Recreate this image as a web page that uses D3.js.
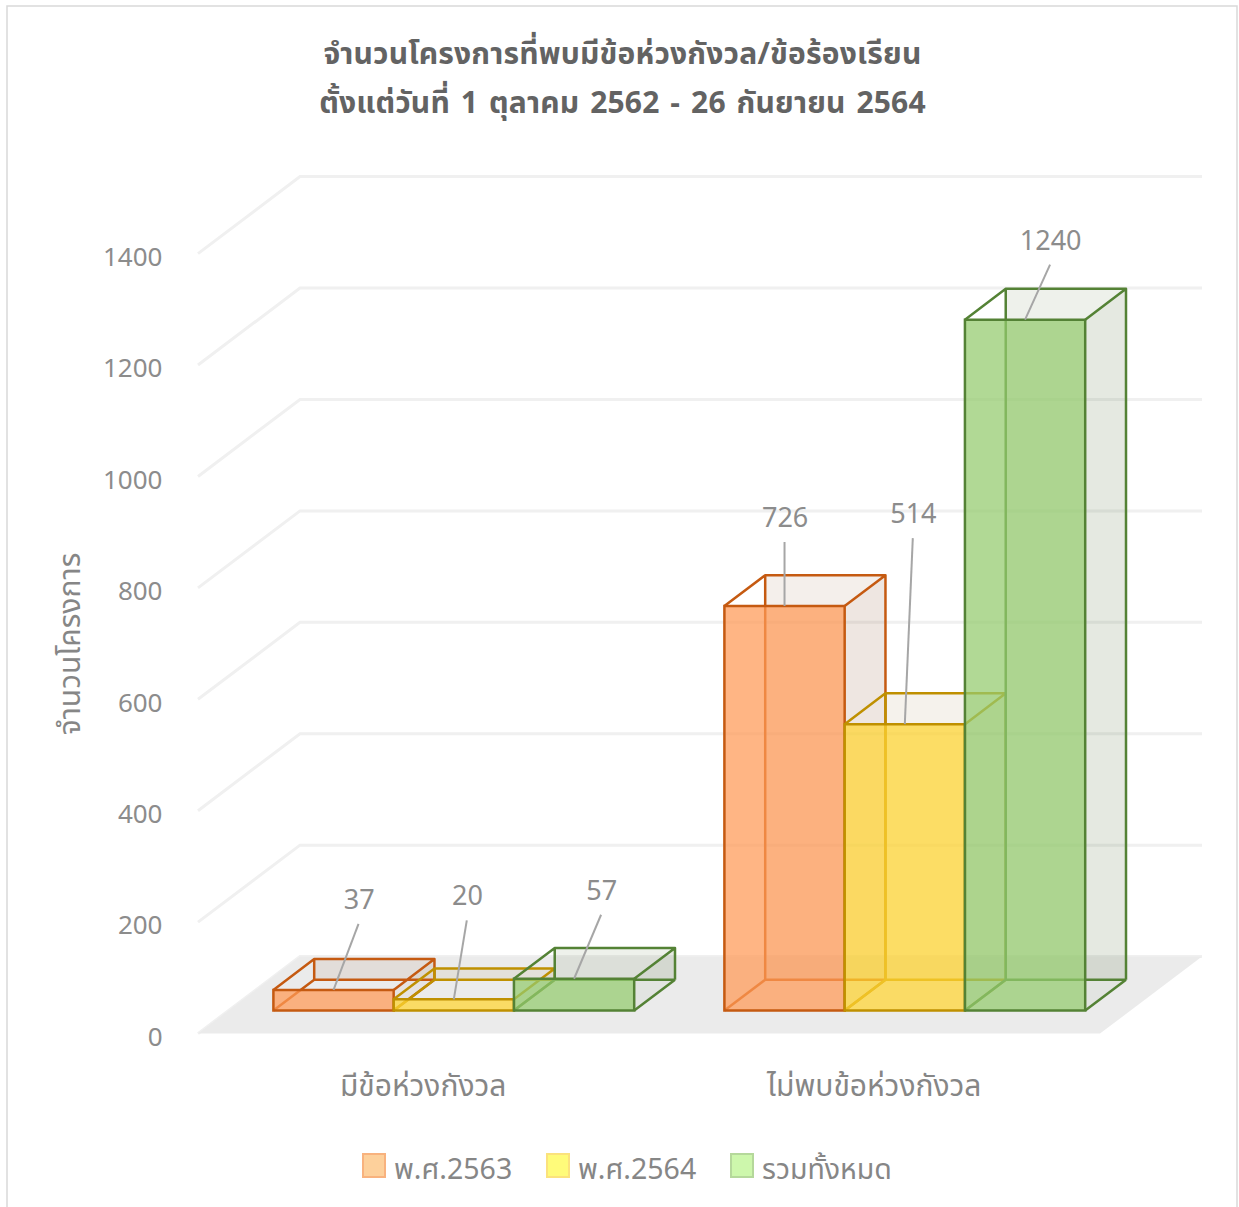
<!DOCTYPE html>
<html>
<head>
<meta charset="utf-8">
<script src="https://cdn.jsdelivr.net/npm/d3@7"></script>
<style>
  html, body { margin: 0; padding: 0; background: #fff; }
  svg { display: block; }
  text { font-family: "Noto Sans Thai", "Noto Sans", "DejaVu Sans", sans-serif; }
</style>
</head>
<body>
<div id="chart"></div>
<script>
// Chart data
var categories = ["มีข้อห่วงกังวล", "ไม่พบข้อห่วงกังวล"];
var seriesNames = ["พ.ศ.2563", "พ.ศ.2564", "รวมทั้งหมด"];
var values2563 = [37, 726];
var values2564 = [20, 514];
var valuesTotal = [57, 1240];
var yTicks = [0, 200, 400, 600, 800, 1000, 1200, 1400];
var titleLines = ["จำนวนโครงการที่พบมีข้อห่วงกังวล/ข้อร้องเรียน", "ตั้งแต่วันที่ 1 ตุลาคม 2562 - 26 กันยายน 2564"];
var yTitle = "จำนวนโครงการ";

var allValues = [values2563, values2564, valuesTotal];

// Colours per series
var colors = [
  { front: "#FF9A57", edge: "#C55A11", tint: "#945F3E", swatch: "#FDD09B", swatchEdge: "#F8B27E" },
  { front: "#FFD533", edge: "#BF9000", tint: "#A08040", swatch: "#FFFB7A", swatchEdge: "#FBE27D" },
  { front: "#94CB6D", edge: "#548235", tint: "#58733E", swatch: "#CDF7AC", swatchEdge: "#B5D89B" }
];

var svgWidth = 1239;
var svgHeight = 1207;

var svg = d3.select("#chart").append("svg")
  .attr("width", svgWidth)
  .attr("height", svgHeight);

// Chart frame
svg.append("rect")
  .attr("x", 7).attr("y", 6)
  .attr("width", 1230).attr("height", 1230)
  .attr("fill", "#fff")
  .attr("stroke", "#D9D9D9")
  .attr("stroke-width", 1.5);

// Oblique projection: the floor runs from x 198-1100 at the front, depth moves up and right
var floorLeft = 198, floorRight = 1100, floorFront = 1033.6;
var depthX = 102, depthY = -77;

var xCat = d3.scaleBand().domain(d3.range(categories.length))
  .range([floorLeft - 0.3, floorRight - 0.3])
  .paddingInner(0.2).paddingOuter(0.1);
var xSeries = d3.scaleBand().domain(d3.range(seriesNames.length))
  .range([0, xCat.bandwidth()]);
var yScale = d3.scaleLinear().domain([0, 1400]).range([floorFront, floorFront - 780]);

// x in front-plane pixels, v in chart value, d in 0..1 depth
function project(x, v, d) {
  return [x + depthX * d, yScale(v) + depthY * d];
}
var line = d3.line();
function poly(points) { return line(points) + "Z"; }

// Gridlines: side wall then back wall
svg.append("g").selectAll("path")
  .data(yTicks)
  .enter().append("path")
  .attr("d", v => line([project(floorLeft, v, 0), project(floorLeft, v, 1), project(floorRight, v, 1)]))
  .attr("fill", "none")
  .attr("stroke", "#F0F0F0")
  .attr("stroke-width", 3);

// Floor
svg.append("path")
  .attr("d", poly([project(floorLeft, 0, 0), project(floorRight, 0, 0), project(floorRight, 0, 1), project(floorLeft, 0, 1)]))
  .attr("fill", "#EBEBEB");

// Bars, left to right so each one lies over the side of the previous
var barFront = 0.3, barBack = 0.7;

categories.forEach(function(cat, c) {
  seriesNames.forEach(function(name, s) {
    var v = allValues[s][c];
    var x0 = xCat(c) + xSeries(s);
    var x1 = x0 + xSeries.bandwidth();
    var col = colors[s];
    var g = svg.append("g");

    var a = project(x0, 0, barFront), b = project(x1, 0, barFront);
    var e = project(x0, v, barFront), f = project(x1, v, barFront);
    var a2 = project(x0, 0, barBack), b2 = project(x1, 0, barBack);
    var e2 = project(x0, v, barBack), f2 = project(x1, v, barBack);

    // back and side panels, barely tinted (they overlap, so the side stays weak)
    g.append("path").attr("d", poly([a2, b2, f2, e2])).attr("fill", col.tint).attr("opacity", 0.1);
    g.append("path").attr("d", poly([b, b2, f2, f])).attr("fill", col.tint).attr("opacity", 0.06);

    // hidden edges
    g.append("path")
      .attr("d", line([a, a2, b2]) + line([a2, e2]) + line([b2, f2]) + line([e, e2, f2, f]) + line([b, b2]))
      .attr("fill", "none").attr("stroke", col.edge).attr("stroke-width", 2.5)
      .attr("stroke-linejoin", "round");

    // front
    g.append("path").attr("d", poly([a, b, f, e])).attr("fill", col.front).attr("opacity", 0.73);
    g.append("path").attr("d", poly([a, b, f, e]))
      .attr("fill", "none").attr("stroke", col.edge).attr("stroke-width", 2.5);
  });
});

// Data labels with their leader lines, each label placed by hand from the bar top
var labelShift = [[[25, -66], [13, -79], [27, -64]], [[0, -64], [8, -186], [25, -55]]];

categories.forEach(function(cat, c) {
  seriesNames.forEach(function(name, s) {
    var v = allValues[s][c];
    var mid = xCat(c) + xSeries(s) + xSeries.bandwidth() / 2;
    var top = project(mid, v, barFront);
    var sh = labelShift[c][s];
    svg.append("line")
      .attr("x1", top[0]).attr("y1", top[1])
      .attr("x2", top[0] + sh[0]).attr("y2", top[1] + sh[1])
      .attr("stroke", "#A6A6A6").attr("stroke-width", 2);
    svg.append("text")
      .attr("x", top[0] + sh[0] + 0.6).attr("y", top[1] + sh[1] - 15)
      .attr("text-anchor", "middle")
      .attr("font-size", 27)
      .attr("fill", "#8C8C8C")
      .text(v);
  });
});

// Y axis
var yAxis = svg.append("g")
  .attr("transform", "translate(162.5,3.5)")
  .call(d3.axisLeft(yScale).tickValues(yTicks).tickFormat(d3.format("d")).tickSize(0).tickPadding(0));
yAxis.select(".domain").remove();
yAxis.attr("font-family", null);
yAxis.selectAll("text")
  .attr("font-size", 26)
  .attr("fill", "#8C8C8C");

// Category labels
svg.append("g").selectAll("text")
  .data(categories)
  .enter().append("text")
  .attr("x", (d, i) => xCat(i) + xCat.bandwidth() / 2)
  .attr("y", 1096)
  .attr("text-anchor", "middle")
  .attr("font-size", 30)
  .attr("fill", "#868686")
  .text(d => d);

// Title, spaced out to the reference width
svg.append("g").selectAll("text")
  .data(titleLines)
  .enter().append("text")
  .attr("x", 622.5)
  .attr("y", (d, i) => 63.5 + i * 49)
  .attr("text-anchor", "middle")
  .attr("font-size", 30)
  .attr("font-weight", 700)
  .attr("word-spacing", 2.8)
  .attr("letter-spacing", 0.2)
  .attr("fill", "#636363")
  .text(d => d);

// Y axis title
svg.append("text")
  .attr("transform", "translate(80,644) rotate(-90)")
  .attr("text-anchor", "middle")
  .attr("font-size", 30)
  .attr("fill", "#868686")
  .text(yTitle);

// Legend
var legendX = [362, 546, 730];
var legend = svg.append("g").selectAll("g")
  .data(seriesNames)
  .enter().append("g")
  .attr("transform", (d, i) => `translate(${legendX[i]},1154)`);
legend.append("rect")
  .attr("x", 1).attr("y", 0)
  .attr("width", 22).attr("height", 23)
  .attr("fill", (d, i) => colors[i].swatch)
  .attr("stroke", (d, i) => colors[i].swatchEdge)
  .attr("stroke-width", 2);
legend.append("text")
  .attr("x", 32).attr("y", 25)
  .attr("font-size", 28.5)
  .attr("fill", "#868686")
  .text(d => d);
</script>
</body>
</html>
